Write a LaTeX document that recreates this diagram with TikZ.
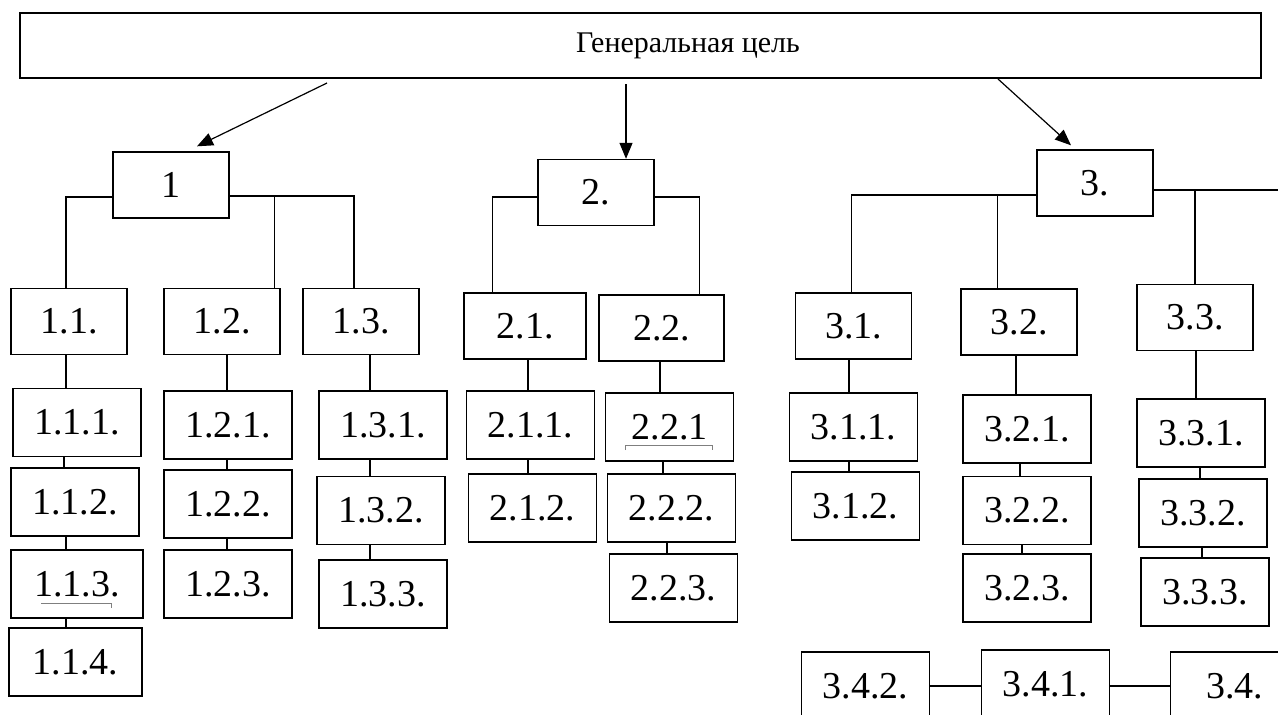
\documentclass[tikz,border=0pt]{standalone}
\usepackage{fontspec}
\setmainfont{Liberation Serif}
\usepackage{tikz}
\usepackage{xcolor}
\usetikzlibrary{arrows.meta}
\definecolor{linegray}{HTML}{7F7F7F}
\tikzstyle{aimbox} = [
    draw,
    rectangle,
    line width=0.7pt,
    minimum width=620.5pt,
    minimum height=32.5pt,
    inner sep=0pt,
    font=\fontsize{15}{18}\selectfont
    ]
\tikzstyle{goalbox} = [
    draw,
    rectangle,
    line width=0.7pt,
    minimum width=58pt,
    minimum height=33pt,
    inner sep=0pt,
    font=\fontsize{19}{22}\selectfont
    ]
\tikzstyle{taskbox} = [goalbox, minimum width=64pt, minimum height=34pt]
\tikzstyle{link} = [line width=0.6pt]
\tikzstyle{arrowlink} = [link, -{Triangle[length=8pt,width=6.5pt]}]

\begin{document}
\begin{tikzpicture}[x=0.5pt,y=-0.5pt]
\clip (0,0) rectangle (1278,714);

\node[aimbox] (aim) at (640.5,45.5) {\hspace*{47.5pt}Генеральная цель};

% subgoals
\node[goalbox] (n1) at (171,185) {1};
\node[goalbox] (n2) at (596,192.5) {2.};
\node[goalbox] (n3) at (1095,183) {3.};

\node[goalbox] (n11) at (69,321.5) {1.1.};
\node[goalbox] (n12) at (222,321.5) {1.2.};
\node[goalbox] (n13) at (361,321.5) {1.3.};
\node[goalbox, minimum width=61pt] (n21) at (525,326) {2.1.};
\node[goalbox, minimum width=62.5pt] (n22) at (661.5,328) {2.2.};
\node[goalbox] (n31) at (853.5,326) {3.1.};
\node[goalbox] (n32) at (1019,322) {3.2.};
\node[goalbox] (n33) at (1195,317.5) {3.3.};

% tasks
\node[taskbox] (n111) at (77,422.5) {1.1.1.};
\node[taskbox] (n112) at (75,502) {1.1.2.};
\node[taskbox, minimum width=66pt] (n113) at (77,584) {1.1.3.};
\node[taskbox, minimum width=66.5pt] (n114) at (75.5,662) {1.1.4.};
\node[taskbox] (n121) at (228,425) {1.2.1.};
\node[taskbox] (n122) at (228,504) {1.2.2.};
\node[taskbox] (n123) at (228,584) {1.2.3.};
\node[taskbox] (n131) at (383,425) {1.3.1.};
\node[taskbox] (n132) at (381,510.5) {1.3.2.};
\node[taskbox] (n133) at (383,594) {1.3.3.};
\node[taskbox] (n211) at (530.5,425) {2.1.1.};
\node[taskbox] (n212) at (532.5,508) {2.1.2.};
\node[taskbox] (n221) at (669.5,427) {2.2.1};
\node[taskbox] (n222) at (671.5,508) {2.2.2.};
\node[taskbox] (n223) at (673.5,588) {2.2.3.};
\node[taskbox] (n311) at (853.5,427) {3.1.1.};
\node[taskbox] (n312) at (855.5,506) {3.1.2.};
\node[taskbox] (n321) at (1027,429) {3.2.1.};
\node[taskbox] (n322) at (1027,510.5) {3.2.2.};
\node[taskbox] (n323) at (1027,588) {3.2.3.};
\node[taskbox] (n331) at (1201,433) {3.3.1.};
\node[taskbox] (n332) at (1203,513) {3.3.2.};
\node[taskbox] (n333) at (1205,592) {3.3.3.};
\node[taskbox] (n342) at (865.5,686) {3.4.2.};
\node[taskbox] (n341) at (1045.5,684) {3.4.1.};
\node[taskbox] (n34) at (1234.5,686) {3.4.};

% arrows from the top
\coordinate (s1) at (327,83);
\coordinate (s2) at (626,84);
\coordinate (s3) at (998,79);
\draw[arrowlink] (s1) -- ([xshift=13pt,yshift=2.5pt]n1.north);
\draw[arrowlink] (s2) -- (s2 |- n2.north);
\draw[arrowlink] (s3) -- ([xshift=-12pt,yshift=2pt]n3.north);

% branches
\draw[link] (n1.west |- 0,197) -| ([xshift=-1.5pt]n11.north);
\draw[link] (n1.east |- 0,196) -| ([xshift=-3.5pt]n13.north);
\draw[link] ([xshift=-3pt]n12.north east) |- (n1.east |- 0,196);
\draw[link] (n2.west |- 0,197) -| ([xshift=14.5pt]n21.north west);
\draw[link] (n2.east |- 0,197) -| ([xshift=-12.5pt]n22.north east);
\draw[link] (n3.west |- 0,195) -| ([xshift=-1pt]n31.north);
\draw[link] ([xshift=18.5pt]n32.north west) |- (n3.west |- 0,195);
\coordinate (edge) at (1290,190);
\draw[link] (n3.east |- edge) -- (edge);
\draw[link] (n33.north) |- (edge);

\foreach \a/\b/\x in {n11/n111/66, n111/n112/64, n112/n113/66, n113/n114/66,
    n12/n121/227, n121/n122/227, n122/n123/227,
    n13/n131/370, n131/n132/370, n132/n133/370,
    n21/n211/528, n211/n212/528,
    n22/n221/660, n221/n222/663, n222/n223/667,
    n31/n311/849, n311/n312/849,
    n32/n321/1016, n321/n322/1020, n322/n323/1022,
    n33/n331/1196, n331/n332/1200, n332/n333/1202}
  \draw[link] (\a.south -| \x,0) -- (\b.north -| \x,0);

\draw[link] (n342.east) -- (n342.east -| n341.west);
\draw[link] (n341.east |- n34.west) -- (n34.west);

% marks under the labels
\draw[linegray, line width=0.4pt] ([xshift=-18pt,yshift=-9.5pt]n113.center) -- ([xshift=17pt,yshift=-9.5pt]n113.center) -- ([xshift=17pt,yshift=-12pt]n113.center);
\draw[linegray, line width=0.4pt] ([xshift=-22.25pt,yshift=-11.5pt]n221.center) -- ([xshift=-22.25pt,yshift=-9pt]n221.center) -- ([xshift=21.25pt,yshift=-9pt]n221.center) -- ([xshift=21.25pt,yshift=-11.5pt]n221.center);
\end{tikzpicture}
\end{document}
